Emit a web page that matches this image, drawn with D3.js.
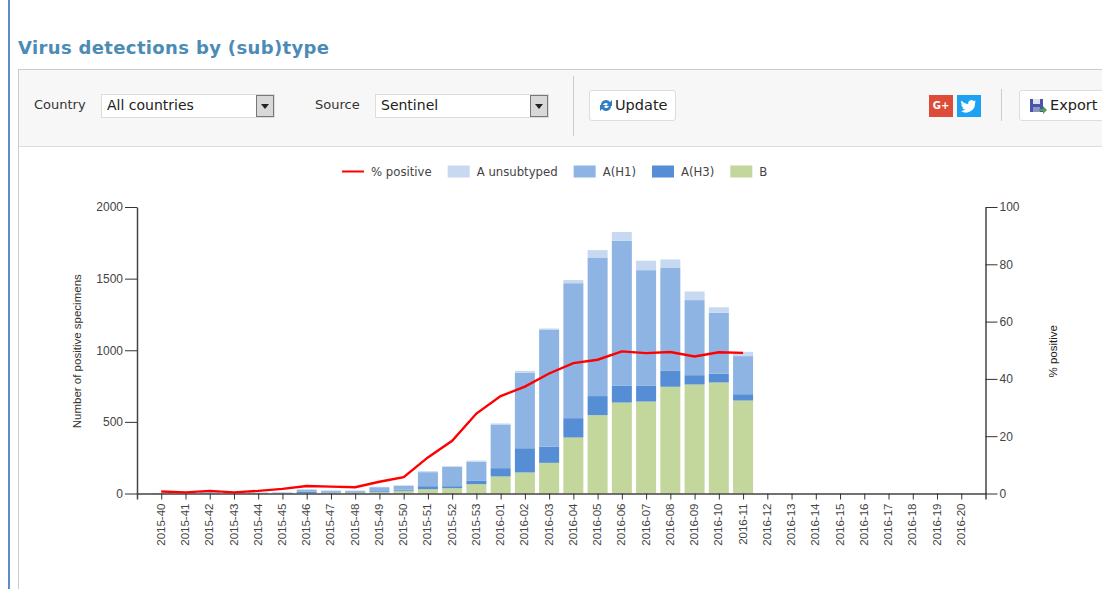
<!DOCTYPE html>
<html>
<head>
<meta charset="utf-8">
<script src="https://cdn.jsdelivr.net/npm/d3@7"></script>
<style>
    html, body { margin: 0; padding: 0; background: #fff; overflow: hidden; }
    body { width: 1102px; height: 589px; position: relative; font-family: "DejaVu Sans", sans-serif; color: #333; }
    #page-edge { position: absolute; left: 8px; top: 0; width: 2px; height: 589px; background: #5f8bc4; }
    h1 { position: absolute; left: 18px; top: 37px; margin: 0; font-size: 18px; letter-spacing: .35px; font-weight: bold; color: #4b8bb5; white-space: nowrap; }
    #panel { position: absolute; left: 18px; top: 69px; width: 1100px; height: 530px; border: 1px solid #ccc; box-sizing: border-box; }
    #toolbar { position: absolute; left: 0; top: 0; width: 100%; height: 77px; background: #f7f7f7; border-bottom: 1px solid #ddd; box-sizing: border-box; }
    .lab { position: absolute; font-size: 13px; top: 27px; color: #333; }
    .select { position: absolute; top: 24px; width: 174px; height: 24px; background: #fff; border: 1px solid #ddd; box-sizing: border-box; font-size: 14px; line-height: 21px; padding-left: 5px; color: #222; }
    .select i { position: absolute; right: 0; top: 0; width: 18px; height: 22px; background: #d8d8d8; border: 1px solid #777; box-sizing: border-box; }
    .select i::after { content: ""; position: absolute; left: 4px; top: 8px; border: 4px solid transparent; border-top: 5px solid #222; }
    .sep { position: absolute; width: 1px; background: #ccc; }
    .btn { position: absolute; top: 20px; height: 31px; background: #fff; border: 1px solid #ddd; border-radius: 3px; box-sizing: border-box; font-size: 14.5px; line-height: 29px; color: #222; white-space: nowrap; }
    .btn svg { position: absolute; left: 9px; top: 7px; }
    .soc { position: absolute; top: 25px; width: 24px; height: 22px; }
    #chart { position: absolute; left: 0; top: 0; }
</style>
</head>
<body>
<div id="page-edge"></div>
<h1>Virus detections by (sub)type</h1>
<div id="panel">
    <div id="toolbar">
        <div class="lab" style="left:15px">Country</div>
        <div class="select" style="left:82px">All countries<i></i></div>
        <div class="lab" style="left:296px">Source</div>
        <div class="select" style="left:356px">Sentinel<i></i></div>
        <div class="sep" style="left:554px;top:6px;height:60px"></div>
        <div class="btn" style="left:570px;width:87px;padding-left:25px">
            <svg width="14" height="15" viewBox="0 0 14 15"><path d="M2 7a5 5 0 0 1 9-3l2-2v6H7l2-2a3 3 0 0 0-5 1z" fill="#2f7fc1"/><path d="M12 8a5 5 0 0 1-9 3l-2 2V7h6l-2 2a3 3 0 0 0 5-1z" fill="#2f7fc1"/></svg>
            Update
        </div>
        <div class="soc" style="left:910px;background:#dd4b39;color:#fff;font-size:10px;font-weight:bold;line-height:22px;text-align:center">G+</div>
        <div class="soc" style="left:938px;background:#1da1f2">
            <svg width="24" height="22" viewBox="0 0 24 22"><path d="M19 6.5c-.6.3-1.200.4-1.800.5.600-.4 1.100-1 1.400-1.700-.6.4-1.300.6-2 .8a3.200 3.200 0 0 0-5.400 2.900A9 9 0 0 1 4.600 5.500a3.200 3.200 0 0 0 1 4.200c-.5 0-1-.2-1.400-.4 0 1.500 1.100 2.800 2.500 3.100-.5.100-1 .1-1.400 0 .4 1.300 1.600 2.200 3 2.200A6.400 6.400 0 0 1 4 16a9 9 0 0 0 14-8c.4-.4.800-.9 1-1.500z" fill="#fff"/></svg>
        </div>
        <div class="sep" style="left:982px;top:19px;height:32px"></div>
        <div class="btn" style="left:1000px;width:90px;padding-left:30px">
            <svg width="18" height="16" viewBox="0 0 18 16"><rect x="1" y="1" width="13" height="13" fill="#4a55a8"/><rect x="4" y="1" width="7" height="5" fill="#dfe3f2"/><rect x="4" y="9" width="7" height="5" fill="#8b93c9"/><path d="M10 11h4V8l4 4-4 4v-3h-4z" fill="#4fa04f"/></svg>
            Export
        </div>
    </div>
</div>
<script>
// weeks on the x axis
const weeks = [
    '2015-40','2015-41','2015-42','2015-43','2015-44','2015-45','2015-46','2015-47','2015-48','2015-49',
    '2015-50','2015-51','2015-52','2015-53','2016-01','2016-02','2016-03','2016-04','2016-05','2016-06',
    '2016-07','2016-08','2016-09','2016-10','2016-11','2016-12','2016-13','2016-14','2016-15','2016-16',
    '2016-17','2016-18','2016-19','2016-20'
]

// only the first 25 weeks have data
const typeB      = [0,0,1,0,0,1,3,7,7,9,19,30,37,65,119,147,214,391,547,635,642,745,761,775,649]
const typeH3     = [1,1,2,1,1,1,11,6,7,7,7,21,14,23,58,169,112,135,133,119,112,111,65,61,44]
const typeH1     = [2,2,6,2,5,5,13,7,5,28,28,98,135,133,305,527,819,942,968,1010,805,718,524,426,266]
const unsubtyped = [1,1,2,1,2,2,2,2,2,3,4,7,5,9,7,13,7,22,51,61,66,60,60,38,30]
const pctPositive = [0.7,0.4,0.9,0.4,0.9,1.6,2.6,2.4,2.2,4.1,5.7,12.6,18.4,27.9,34,37.3,41.9,45.5,46.7,49.6,49,49.4,47.8,49.3,49.1]

const countTicks = [0,500,1000,1500,2000]
const pctTicks = [0,20,40,60,80,100]

const seriesKeys = ['B','A(H3)','A(H1)','A unsubtyped']
const seriesColors = {'B':'#c3d69b', 'A(H3)':'#558ed5', 'A(H1)':'#8eb4e3', 'A unsubtyped':'#c6d9f1'}
const legendOrder = ['% positive','A unsubtyped','A(H1)','A(H3)','B']

// Size of plot
const plot = {"left": 137, "right": 985.5, "top": 207, "bottom": 493.5}

const svg = d3.select('body')
    .append('svg')
    .attr('id', 'chart')
    .attr('width', 1102)
    .attr('height', 589)

const x = d3.scalePoint().domain(weeks).range([plot.left, plot.right]).padding(1)
const y = d3.scaleLinear().domain([0, 2000]).range([plot.bottom, plot.top])
const yPct = d3.scaleLinear().domain([0, 100]).range([plot.bottom, plot.top])

const rows = typeB.map((b, i) => ({
    week: weeks[i],
    'B': b,
    'A(H3)': typeH3[i],
    'A(H1)': typeH1[i],
    'A unsubtyped': unsubtyped[i],
    pct: pctPositive[i]
}))

const stacked = d3.stack().keys(seriesKeys)(rows)

svg.append('g')
    .selectAll('g')
    .data(stacked)
    .enter()
    .append('g')
    .attr('fill', d => seriesColors[d.key])
    .selectAll('rect')
    .data(d => d)
    .enter()
    .append('rect')
    .attr('x', d => x(d.data.week) - 10)
    .attr('width', 20)
    .attr('y', d => y(d[1]))
    .attr('height', d => y(d[0]) - y(d[1]))

// axes
const axisFont = g => g
    .style('font-family', '"Liberation Sans", Arial, sans-serif')
    .style('font-size', '12px')
    .call(s => s.selectAll('text').attr('fill', '#444'))
    .call(s => s.selectAll('line').attr('stroke', '#333'))
    .call(s => s.selectAll('path').attr('stroke', '#444').attr('stroke-width', 1.5))

svg.append('g')
    .attr('transform', `translate(0,${plot.bottom})`)
    .call(d3.axisBottom(x).tickSize(6))
    .call(axisFont)
    .call(g => g.selectAll('text')
        .style('font-size', '11.5px')
        .attr('transform', 'rotate(-90)')
        .attr('x', -10)
        .attr('y', -1)
        .attr('dy', '.35em')
        .style('text-anchor', 'end'))

svg.append('g')
    .attr('transform', `translate(${plot.left},0)`)
    .call(d3.axisLeft(y).tickValues(countTicks).tickSize(12).tickSizeOuter(0).tickPadding(2).tickFormat(d3.format('d')))
    .call(axisFont)

svg.append('g')
    .attr('transform', `translate(${plot.right},0)`)
    .call(d3.axisRight(yPct).tickValues(pctTicks).tickSize(12).tickSizeOuter(0).tickPadding(2))
    .call(axisFont)

// axis titles
svg.append('text')
    .attr('transform', `translate(81,${(plot.top + plot.bottom) / 2 + 1}) rotate(-90)`)
    .attr('text-anchor', 'middle')
    .style('font-family', '"Liberation Sans", Arial, sans-serif')
    .style('font-size', '11.5px')
    .attr('fill', '#333')
    .text('Number of positive specimens')

svg.append('text')
    .attr('transform', `translate(1057,${(plot.top + plot.bottom) / 2 + 1}) rotate(-90)`)
    .attr('text-anchor', 'middle')
    .style('font-family', '"Liberation Sans", Arial, sans-serif')
    .style('font-size', '11.5px')
    .attr('fill', '#222')
    .text('% positive')

// the % positive line
const line = d3.line()
    .x(d => x(d.week))
    .y(d => yPct(d.pct))

svg.append('path')
    .datum(rows)
    .attr('d', line)
    .attr('fill', 'none')
    .attr('stroke', '#f00')
    .attr('stroke-width', 2.4)

// Legend
const legend = svg.append('g').attr('transform', 'translate(342,171.5)')
let legendX = 0
legendOrder.forEach(name => {
    const item = legend.append('g').attr('transform', `translate(${legendX},0)`)
    if (name === '% positive') {
        item.append('line').attr('x2', 22).attr('stroke', '#f00').attr('stroke-width', 2)
    } else {
        item.append('rect').attr('y', -6).attr('width', 22).attr('height', 12).attr('fill', seriesColors[name])
    }
    const label = item.append('text')
        .attr('x', 29)
        .attr('dy', '.35em')
        .style('font-family', '"DejaVu Sans", sans-serif')
        .style('font-size', '11.7px')
        .attr('fill', '#444')
        .text(name)
    legendX += 29 + label.node().getComputedTextLength() + 16
})
</script>
</body>
</html>
